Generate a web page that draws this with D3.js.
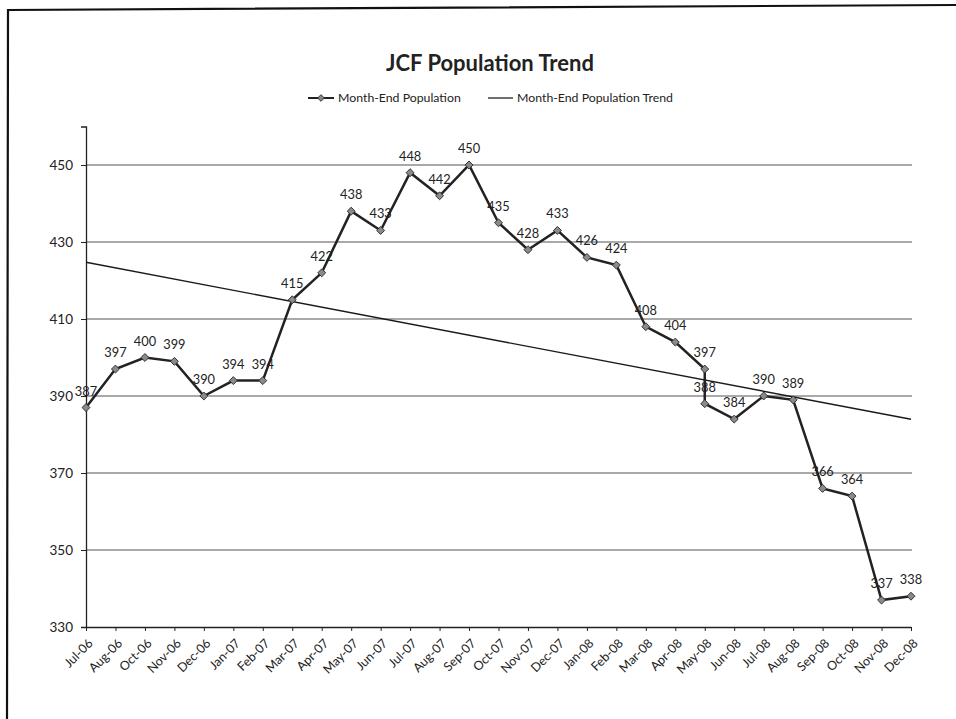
<!DOCTYPE html>
<html>
<head>
<meta charset="utf-8">
<script src="https://cdn.jsdelivr.net/npm/d3@7/dist/d3.min.js"></script>
<style>
  html, body { margin: 0; padding: 0; background: #fff; }
  svg { display: block; }
  text { font-family: Lato, "Open Sans", sans-serif; fill: #222; }
</style>
</head>
<body>
<svg id="chart" width="956" height="719"></svg>
<script>
// ---- Data ----
const categories = ["Jul-06","Aug-06","Oct-06","Nov-06","Dec-06","Jan-07","Feb-07","Mar-07","Apr-07","May-07","Jun-07","Jul-07","Aug-07","Sep-07","Oct-07","Nov-07","Dec-07","Jan-08","Feb-08","Mar-08","Apr-08","May-08","Jun-08","Jul-08","Aug-08","Sep-08","Oct-08","Nov-08","Dec-08"];
const pointMonths = ["Jul-06","Aug-06","Oct-06","Nov-06","Dec-06","Jan-07","Feb-07","Mar-07","Apr-07","May-07","Jun-07","Jul-07","Aug-07","Sep-07","Oct-07","Nov-07","Dec-07","Jan-08","Feb-08","Mar-08","Apr-08","May-08","May-08","Jun-08","Jul-08","Aug-08","Sep-08","Oct-08","Nov-08","Dec-08"];
const population = [387,397,400,399,390,394,394,415,422,438,433,448,442,450,435,428,433,426,424,408,404,397,388,384,390,389,366,364,337,338];
const yTicks = [330,350,370,390,410,430,450];
const yDomain = [330,460];
const title = "JCF Population Trend";
const seriesName = "Month-End Population";
const trendName = "Month-End Population Trend";

// ---- Layout ----
const svg = d3.select("#chart");
const mLeft = 86, mRight = 911, mTop = 126.5, mBottom = 627;

const x = d3.scalePoint().domain(categories).range([mLeft, mRight]);
const y = d3.scaleLinear().domain(yDomain).range([mBottom, mTop]);

const pts = pointMonths.map((m, i) => ({ m, v: population[i], idx: categories.indexOf(m) }));

// page border (scanned frame)
svg.append("path")
  .attr("d", "M7,719 L8,10 L956,5")
  .attr("fill", "none").attr("stroke", "#111").attr("stroke-width", 2.2);

// title
svg.append("text").attr("x", 490).attr("y", 71).attr("text-anchor", "middle")
  .attr("font-size", 22).attr("font-weight", "bold").text(title);

// legend
const lg = svg.append("g");
lg.append("line").attr("x1", 308).attr("x2", 334).attr("y1", 98).attr("y2", 98)
  .attr("stroke", "#222").attr("stroke-width", 2);
lg.append("path").attr("d", d3.symbol(d3.symbolDiamond2, 28)())
  .attr("transform", "translate(321,98)").attr("fill", "#888").attr("stroke", "#333").attr("stroke-width", 1);
lg.append("text").attr("x", 338).attr("y", 102).attr("font-size", 12.3).text(seriesName);
lg.append("line").attr("x1", 488).attr("x2", 513).attr("y1", 98).attr("y2", 98)
  .attr("stroke", "#222").attr("stroke-width", 1.3);
lg.append("text").attr("x", 517).attr("y", 102).attr("font-size", 12.3).text(trendName);

// gridlines
svg.append("g").selectAll("line").data(yTicks.filter(t => t > yDomain[0])).join("line")
  .attr("x1", mLeft).attr("x2", mRight + 1)
  .attr("y1", d => y(d)).attr("y2", d => y(d))
  .attr("stroke", "#555").attr("stroke-width", 1.2);

// y axis
const yAxis = svg.append("g").attr("transform", `translate(${mLeft},0)`)
  .call(d3.axisLeft(y).tickValues(yTicks).tickSize(5).tickPadding(8).tickFormat(d3.format("d")));
yAxis.select(".domain").attr("stroke", "#222").attr("stroke-width", 1.3);
yAxis.selectAll(".tick line").attr("stroke", "#222");
yAxis.selectAll(".tick text").attr("font-size", 13.5).attr("font-family", "Lato, sans-serif").attr("fill", "#222");

// x axis
const xAxis = svg.append("g").attr("transform", `translate(0,${mBottom})`)
  .call(d3.axisBottom(x).tickSize(4).tickSizeOuter(0));
xAxis.select(".domain").attr("stroke", "#222").attr("stroke-width", 1.3);
xAxis.selectAll(".tick line").attr("stroke", "#222");
xAxis.selectAll(".tick text")
  .attr("font-size", 12.5).attr("font-family", "Lato, sans-serif").attr("fill", "#222")
  .attr("text-anchor", "end")
  .attr("transform", "translate(4,14) rotate(-45)")
  .attr("dy", "0.35em").attr("y", 0).attr("x", 0);

// linear trendline (least squares over category position)
const mx = d3.mean(pts, d => d.idx), my = d3.mean(pts, d => d.v);
const sxy = d3.sum(pts, d => (d.idx - mx) * (d.v - my));
const sxx = d3.sum(pts, d => (d.idx - mx) ** 2);
const slope = sxy / sxx, icpt = my - slope * mx;
const i0 = 0, i1 = categories.length - 1;
svg.append("line")
  .attr("x1", x(categories[i0])).attr("y1", y(icpt + slope * i0))
  .attr("x2", x(categories[i1])).attr("y2", y(icpt + slope * i1))
  .attr("stroke", "#1a1a1a").attr("stroke-width", 1.4);

// series line
svg.append("path").datum(pts)
  .attr("d", d3.line().x(d => x(d.m)).y(d => y(d.v)))
  .attr("fill", "none").attr("stroke", "#222").attr("stroke-width", 2.5)
  .attr("stroke-linejoin", "miter");

// markers
svg.append("g").selectAll("path").data(pts).join("path")
  .attr("d", d3.symbol(d3.symbolDiamond2, 40)())
  .attr("transform", d => `translate(${x(d.m)},${y(d.v)})`)
  .attr("fill", "#8a8a8a").attr("stroke", "#333").attr("stroke-width", 1);

// data labels
svg.append("g").selectAll("text").data(pts).join("text")
  .attr("x", d => x(d.m)).attr("y", d => y(d.v) - 12)
  .attr("text-anchor", "middle").attr("font-size", 12.8)
  .text(d => d.v);
</script>
</body>
</html>
